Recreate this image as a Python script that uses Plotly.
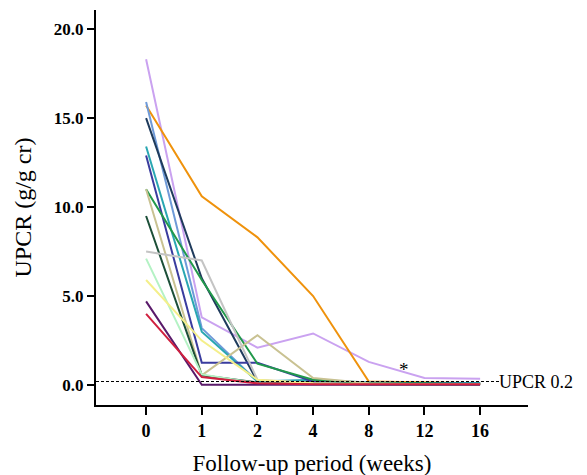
import plotly.graph_objects as go

# follow-up visits (weeks), drawn at equal spacing
weeks = ["0", "1", "2", "4", "8", "12", "16"]

# UPCR (g/g cr) per patient at each visit
patients = {
    "lavender": [18.3, 3.8, 2.1, 2.9, 1.3, 0.4, 0.35],
    "orange": [15.7, 10.6, 8.3, 5.0, 0.2, 0.15, 0.1],
    "steelblue": [15.9, 3.2, 0.2, 0.2, 0.15, 0.1, 0.1],
    "navy": [15.0, 6.0, 0.2, 0.15, 0.1, 0.1, 0.1],
    "teal": [13.4, 3.0, 0.2, 0.3, 0.15, 0.1, 0.1],
    "royalblue": [12.9, 1.25, 1.25, 0.2, 0.1, 0.1, 0.05],
    "green": [11.0, 5.9, 1.2, 0.3, 0.1, 0.1, 0.05],
    "tan": [11.0, 0.55, 2.8, 0.4, 0.1, 0.05, 0.05],
    "darkgreen": [9.5, 0.55, 0.15, 0.1, 0.05, 0.05, 0.05],
    "gray": [7.5, 7.0, 0.3, 0.1, 0.05, 0.05, 0.05],
    "mint": [7.1, 0.6, 0.1, 0.05, 0.05, 0.05, 0.05],
    "yellow": [5.9, 2.5, 0.3, 0.1, 0.05, 0.05, 0.05],
    "purple": [4.7, 0.02, 0.02, 0.02, 0.02, 0.02, 0.02],
    "red": [4.0, 0.45, 0.1, 0.05, 0.05, 0.05, 0.05],
}

colors = {
    "lavender": "#caa2f0",
    "orange": "#ef920c",
    "steelblue": "#6f9ad8",
    "navy": "#1f3b5c",
    "teal": "#2aa7b2",
    "royalblue": "#3a3c9e",
    "green": "#21994b",
    "tan": "#c9c292",
    "darkgreen": "#1c4f38",
    "gray": "#c4c4c4",
    "mint": "#b4f2c4",
    "yellow": "#f4ef8a",
    "purple": "#5a1a6a",
    "red": "#d0203f",
}

threshold = 0.2
serif = "serif"

x_idx = list(range(len(weeks)))

fig = go.Figure()
for name, vals in patients.items():
    fig.add_trace(go.Scatter(
        x=x_idx, y=vals, mode="lines",
        line=dict(color=colors[name], width=2),
        showlegend=False, hoverinfo="skip",
    ))

fig.add_shape(type="line", x0=-0.9, x1=6.36, y0=threshold, y1=threshold,
              line=dict(color="black", width=1, dash="3px,2px"))
fig.add_annotation(x=6.36, y=threshold, text="UPCR 0.2", showarrow=False,
                   xanchor="left", yanchor="middle", xshift=-3,
                   font=dict(family=serif, size=18, color="black"))
fig.add_annotation(x=4.63, y=0.9, text="*", showarrow=False,
                   font=dict(family=serif, size=19, color="black"))

fig.update_layout(
    width=587, height=475,
    margin=dict(l=88, r=67, t=2, b=78),
    plot_bgcolor="white", paper_bgcolor="white",
    font=dict(family=serif, color="black"),
)
fig.update_xaxes(
    range=[-0.9, 6.86], tickvals=x_idx, ticktext=weeks,
    showline=True, linecolor="black", linewidth=2,
    ticks="outside", ticklen=8, tickcolor="black", tickwidth=2,
    showgrid=False, zeroline=False, automargin=False,
    tickfont=dict(family=serif, size=18, weight="bold"),
    title=dict(text="Follow-up period (weeks)", font=dict(family=serif, size=23)),
)
fig.update_yaxes(
    range=[-1.12, 21.07], tickvals=[0, 5, 10, 15, 20], tickformat=".1f",
    showline=True, linecolor="black", linewidth=2,
    ticks="outside", ticklen=7, tickcolor="black", tickwidth=2,
    showgrid=False, zeroline=False, automargin=False,
    tickfont=dict(family=serif, size=17, weight="bold"),
    title=dict(text="UPCR (g/g cr)", font=dict(family=serif, size=24)),
)

fig.write_html("out.html")
